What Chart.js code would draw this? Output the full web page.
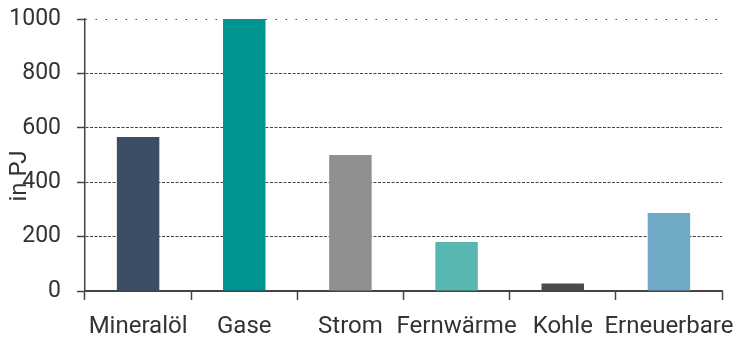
<!DOCTYPE html>
<html>
<head>
<meta charset="utf-8">
<script src="https://cdn.jsdelivr.net/npm/chart.js@4/dist/chart.umd.min.js"></script>
<style>
  html, body { margin: 0; padding: 0; background: #fff; }
  #wrap { width: 736px; height: 340px; }
</style>
</head>
<body>
<div id="wrap"><canvas id="c" width="736" height="340"></canvas></div>
<script>
// Endenergie nach Energieträgern, in PJ
const categories = ['Mineralöl', 'Gase', 'Strom', 'Fernwärme', 'Kohle', 'Erneuerbare'];
const values = [566, 1000, 500, 180, 28, 287];
const barColors = ['#3d4d64', '#009591', '#8f8f8f', '#58b7b0', '#4a4a4a', '#70a9c6'];
const yTicks = [0, 200, 400, 600, 800, 1000];
const yTitle = 'in PJ';

const FONT = 'Roboto, "Noto Sans", sans-serif';
const TEXT = '#333333';
const LINE = '#444444';

// rotated axis title drawn over the tick labels
const yTitlePlugin = {
  id: 'yTitle',
  afterDraw(chart) {
    const { ctx, scales: { y } } = chart;
    ctx.save();
    ctx.fillStyle = TEXT;
    ctx.font = '24px ' + FONT;
    ctx.textAlign = 'center';
    ctx.textBaseline = 'middle';
    ctx.translate(20, (y.top + y.bottom) / 2 + 21);
    ctx.rotate(-Math.PI / 2);
    ctx.fillText(yTitle, 0, 0);
    ctx.restore();
  }
};

new Chart(document.getElementById('c'), {
  type: 'bar',
  data: {
    labels: categories,
    datasets: [{
      data: values,
      backgroundColor: barColors,
      borderWidth: 0,
      barPercentage: 0.4,
      categoryPercentage: 1.0
    }]
  },
  options: {
    responsive: false,
    animation: false,
    devicePixelRatio: 1,
    layout: { padding: { left: 0, right: 14, top: 19, bottom: 0 } },
    plugins: { legend: { display: false }, tooltip: { enabled: false } },
    scales: {
      x: {
        offset: true,
        afterFit(scale) {
          scale.height = 49;
          scale.paddingLeft = 0;
          scale.paddingRight = 0;
        },
        grid: {
          offset: true,
          drawOnChartArea: false,
          drawTicks: true,
          tickLength: 9,
          tickColor: LINE,
          tickWidth: 1.5
        },
        border: { display: true, color: LINE, width: 1.5 },
        ticks: {
          color: TEXT,
          font: { family: FONT, size: 24, lineHeight: 1 },
          padding: 15,
          maxRotation: 0,
          autoSkip: false
        }
      },
      y: {
        min: 0,
        max: 1000,
        afterBuildTicks(scale) {
          scale.ticks = yTicks.map(v => ({ value: v }));
        },
        afterFit(scale) {
          scale.width = 85;
          scale.paddingTop = 0;
          scale.paddingBottom = 0;
        },
        grid: {
          color: LINE,
          lineWidth: 1,
          drawTicks: true,
          tickLength: 8,
          tickColor: LINE,
          tickWidth: 1.5
        },
        border: {
          display: true,
          color: LINE,
          width: 1.5,
          dash: ctx => (ctx.tick && ctx.tick.value === 1000) ? [1.5, 8.5] : (ctx.tick && ctx.tick.value === 0 ? [] : [3, 1.5])
        },
        ticks: {
          color: TEXT,
          font: { family: FONT, size: 23, lineHeight: 1 },
          padding: 16,
          callback: v => String(v)
        }
      }
    }
  },
  plugins: [yTitlePlugin]
});
</script>
</body>
</html>
